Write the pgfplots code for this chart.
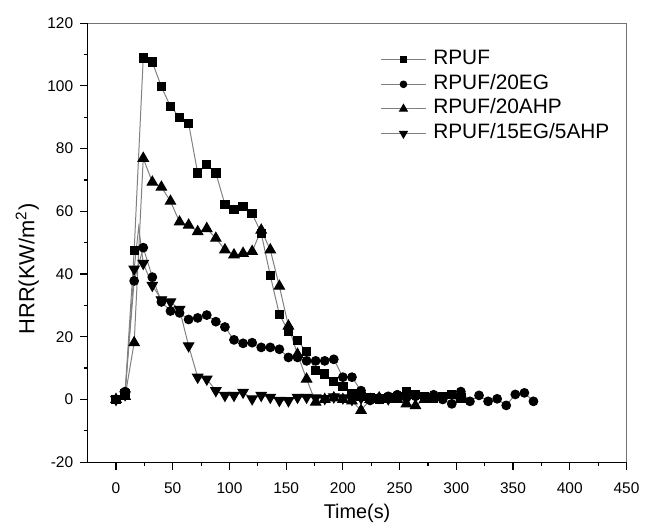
\documentclass[border=0pt]{standalone}
\usepackage{fontspec}
\setmainfont{Liberation Sans}
\usepackage{pgfplots}
\pgfplotsset{compat=1.18}
\begin{document}
\begin{tikzpicture}
\begin{axis}[
  name=ax,
  scale only axis,
  width=271.35pt, height=221.1pt,
  xmin=-25, xmax=450, ymin=-20, ymax=120,
  axis lines=left,
  axis line style={-, line width=0.6pt, black},
  clip=false,
  xtick={0,50,...,450}, ytick={-20,0,...,120},
  minor x tick num=1, minor y tick num=1,
  tick align=outside,
  major tick length=3.75pt, minor tick length=2pt,
  tick style={black, line width=0.6pt},
  /pgf/number format/assume math mode=true,
  ticklabel style={font=\fontsize{7.8}{9}\selectfont},
  xticklabel style={yshift=-3pt},
  xlabel={Time(s)},
  ylabel={HRR(KW/m\textsuperscript{2})},
  xlabel style={font=\fontsize{10}{12}\selectfont, at={(axis description cs:0.5,-0.1278)}, anchor=base},
  ylabel style={font=\fontsize{11}{13}\selectfont, at={(axis description cs:-0.112,0.44)}, anchor=center},
  every axis plot/.append style={color=black!50, line width=0.5pt, mark options={draw=black, fill=black, solid}},
  legend image code/.code={
    \draw[#1] (0pt,0pt) -- (22.5pt,0pt);
    \draw[#1, every mark/.append style={scale=0.75}] plot coordinates {(11.25pt,0pt)};
  },
  legend style={draw=none, fill=none, inner sep=0pt,
    at={(axis description cs:0.543,0.938)}, anchor=north west,
    font=\fontsize{10.5}{12}\selectfont, row sep=3.4pt,
    nodes={inner sep=0pt, text height=7pt, text depth=2pt},
    /tikz/every odd column/.append style={column sep=3.5pt}},
  legend cell align=left,
]
\addplot[mark=square*, mark size=2.1pt] coordinates {
(0,0) (8,2.0) (16,47.5) (24,108.9) (32,107.6) (40,99.7) (48,93.4) (56,90.0)
(64,88.0) (72,72.2) (80,75.0) (88,72.2) (96,62.2) (104,60.6) (112,61.5) (120,59.3)
(128,53.0) (136,39.5) (144,27.1) (152,21.8) (160,18.7) (168,15.3) (176,9.2) (184,8.1)
(192,5.8) (200,4.1) (208,2.0) (216,1.0) (224,0.5) (232,0.0) (240,0.5) (248,1.0)
(256,2.5) (264,1.5) (272,1.0) (280,0.5) (288,1.0) (296,1.5) (304,0.5)
};
\addlegendentry{RPUF}
\addplot[mark=*, mark size=2.2pt] coordinates {
(0,0) (8,2.5) (16,37.8) (24,48.4) (32,39.0) (40,31.1) (48,28.2) (56,27.6)
(64,25.5) (72,26.0) (80,26.9) (88,24.8) (96,23.1) (104,19.0) (112,17.9) (120,18.1)
(128,16.6) (136,16.6) (144,16.0) (152,13.4) (160,13.4) (168,12.3) (176,12.3) (184,12.3)
(192,12.8) (200,7.1) (208,7.1) (216,2.8) (224,-0.3) (232,0.5) (240,1.0) (248,1.5)
(256,0.5) (264,1.0) (272,0.5) (280,1.5) (288,0.0) (296,-1.4) (304,2.5) (312,-0.6)
(320,1.3) (328,-0.6) (336,0.2) (344,-1.9) (352,1.6) (360,2.1) (368,-0.6)
};
\addlegendentry{RPUF/20EG}
\addplot[mark=triangle*, mark size=3pt] coordinates {
(0,0) (8,1.0) (16,18.1) (24,76.9) (32,69.3) (40,67.7) (48,63.2) (56,56.6)
(64,55.6) (72,53.5) (80,54.5) (88,51.4) (96,47.7) (104,46.1) (112,46.6) (120,47.2)
(128,54.0) (136,47.7) (144,36.1) (152,23.4) (160,14.4) (168,6.5) (176,-0.9) (184,0.0)
(192,0.5) (200,0.0) (208,-0.5) (216,-3.5) (224,0.0) (232,0.5) (240,0.0) (248,0.0)
(256,-1.4) (264,-2.0) (272,0.0)
};
\addlegendentry{RPUF/20AHP}
\addplot[mark=triangle*, mark size=3pt, mark options={rotate=180, draw=black, fill=black, solid},
  mark indices={1,2,3,5,6,7,8,9,10,11,12,13,14,15,16,17,18,19,20,21,22,23,24,25,26,27,28,29,30,31,32}] coordinates {
(0,0) (8,1.5) (16,41.6) (20,55.0) (24,43.4) (32,36.4) (40,31.8) (48,31.1) (56,28.7)
(64,17.1) (72,7.1) (80,6.5) (88,2.8) (96,1.3) (104,1.3) (112,2.3) (120,0.2)
(128,1.3) (136,0.7) (144,-0.3) (152,-0.4) (160,0.7) (168,0.7) (176,0.5) (184,0.3)
(192,0.8) (200,0.5) (208,0.0) (216,0.5) (224,0.3) (232,0.6) (240,0.2)
};
\addlegendentry{RPUF/15EG/5AHP}
\draw[black!55, line width=0.6pt] (rel axis cs:0,1) -- (rel axis cs:1,1) -- (rel axis cs:1,0);
\end{axis}
\path ([xshift=-44.15pt,yshift=-30.25pt]ax.south west) rectangle ([xshift=7.5pt,yshift=11.65pt]ax.north east);
\end{tikzpicture}
\end{document}
